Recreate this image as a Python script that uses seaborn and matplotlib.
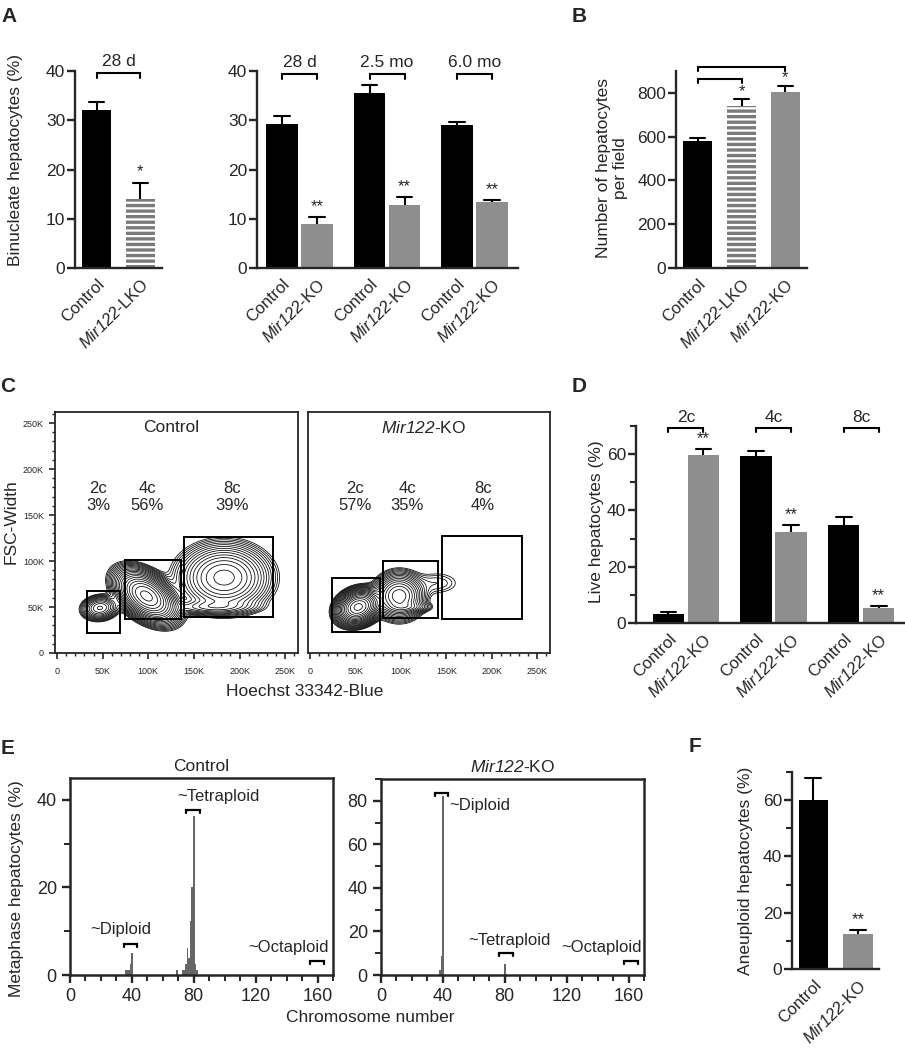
import numpy as np
import pandas as pd
import matplotlib
matplotlib.use("Agg")
import matplotlib.pyplot as plt
from matplotlib.patches import Rectangle
from matplotlib.ticker import MultipleLocator
import seaborn as sns

sns.set_style("ticks")
plt.rcParams['font.family'] = ['Liberation Sans', 'DejaVu Sans']
plt.rcParams['mathtext.fontset'] = 'custom'
plt.rcParams['mathtext.rm'] = 'Liberation Sans'
plt.rcParams['mathtext.it'] = 'Liberation Sans:italic'
# \mathsf is used for the gene name so that its digits are italic as well
plt.rcParams['mathtext.sf'] = 'Liberation Sans:italic'
plt.rcParams['hatch.linewidth'] = 1.6

BLACK = '#000000'
GRAY = '#8e8e8e'
HATCH_GRAY = '#7a7a7a'
HIST_GRAY = '#666666'

KO = r'$\mathsf{Mir122}$-KO'
LKO = r'$\mathsf{Mir122}$-LKO'

# ---------------- data ----------------
# A (left): binucleate, 28 d
a1_labels = ['Control', LKO]
a1_mean = [32.0, 14.0]
a1_err = [1.8, 3.2]
a1_stars = ['', '*']

# A (right): binucleate over time
a2_times = ['28 d', '2.5 mo', '6.0 mo']
a2_ctrl = [29.2, 35.5, 29.1]
a2_ctrl_err = [1.6, 1.7, 0.6]
a2_ko = [9.0, 12.8, 13.4]
a2_ko_err = [1.4, 1.6, 0.4]
a2_stars = ['**', '**', '**']

# B: hepatocytes per field
b_labels = ['Control', LKO, KO]
b_mean = [578, 742, 806]
b_err = [15, 28, 27]
b_stars = ['', '*', '*']

# C: flow gates (x0, x1, y0, y1 in K) and percentages
c_gate_names = ['2c', '4c', '8c']
c_ctrl_pct = ['3%', '56%', '39%']
c_ko_pct = ['57%', '35%', '4%']
c_ctrl_gates = [(33, 69, 22, 67), (75, 136, 37, 101), (139, 237, 39, 126)]
c_ko_gates = [(24, 77, 23, 81), (80, 141, 38, 100), (145, 233, 37, 127)]
c_ctrl_label_x = [45, 99, 192]
c_ko_label_x = [50, 107, 190]
# populations: (cx, cy, sx, sy, rho, weight), in K
c_ctrl_pops = [(47, 49, 9, 6, 0.1, 0.03),
               (98, 62, 14, 12, -0.45, 0.56),
               (183, 82, 22, 16, 0.0, 0.36),
               (170, 50, 24, 4, 0.0, 0.02)]
c_ko_pops = [(53, 50, 10, 8, 0.2, 0.57),
             (98, 62, 12, 11, 0.0, 0.28),
             (108, 50, 12, 3, 0.0, 0.015),
             (140, 76, 16, 8, 0.0, 0.012)]

# D: ploidy of live hepatocytes
d_groups = ['2c', '4c', '8c']
d_ctrl = [3.2, 59.2, 34.7]
d_ctrl_err = [0.8, 1.8, 2.9]
d_ko = [59.8, 32.5, 5.3]
d_ko_err = [2.0, 2.3, 0.9]
d_stars = ['**', '**', '**']

# E: karyotype histograms
e_ctrl_chrom = [36, 37, 38, 39, 40, 69, 73, 74, 75, 76, 77, 78, 79, 80, 81, 82]
e_ctrl_pct = [1.2, 1.2, 1.2, 2.4, 5.0, 1.2, 1.2, 1.2, 2.4, 6.2, 3.8, 12.4, 20.0, 36.3, 2.4, 1.2]
e_ko_chrom = [38, 39, 40, 80]
e_ko_pct = [2.3, 8.7, 82.3, 5.0]

# F: aneuploid hepatocytes
f_labels = ['Control', KO]
f_mean = [60.0, 12.3]
f_err = [8.0, 1.7]
f_stars = ['', '**']

# ---------------- helpers ----------------
W, H = 905, 1050
fig = plt.figure(figsize=(W / 100, H / 100), dpi=100)


def add_ax(l, t, r, b):
    return fig.add_axes([l / W, 1 - b / H, (r - l) / W, (b - t) / H])


def style_bar_axes(ax, ymax, major, minor=None, fs=12.5):
    sns.despine(ax=ax)
    for s in ['left', 'bottom']:
        ax.spines[s].set_linewidth(1.7)
    ax.set_ylim(0, ymax)
    ax.yaxis.set_major_locator(MultipleLocator(major))
    if minor:
        ax.yaxis.set_minor_locator(MultipleLocator(minor))
        ax.tick_params(axis='y', which='minor', length=4, width=1.5)
    ax.tick_params(axis='y', which='major', length=6, width=1.7, labelsize=fs, pad=1)
    ax.tick_params(axis='x', length=0, labelsize=12, pad=6)
    ax.set_xlabel('')
    ax.set_ylabel('')


def err_up(ax, xs, means, errs, half):
    for x, m, e in zip(xs, means, errs):
        ax.plot([x, x], [m, m + e], color='black', lw=1.5, solid_capstyle='butt')
        ax.plot([x - half, x + half], [m + e, m + e], color='black', lw=1.5)


def stars(ax, xs, tops, marks, off, fs=12):
    for x, t, s in zip(xs, tops, marks):
        if s:
            ax.text(x, t + off, s, ha='center', va='bottom', fontsize=fs)


def bracket(ax, x0, x1, y, drop, lw=1.5):
    ax.plot([x0, x0, x1, x1], [y - drop, y, y, y - drop], color='black', lw=lw,
            clip_on=False, solid_joinstyle='miter')


def rot_labels(ax, pos, labels):
    ax.set_xticks(pos)
    ax.set_xticklabels(labels, rotation=45, ha='right', rotation_mode='anchor', fontsize=12)


def hatch_bar(patch):
    patch.set_facecolor(HATCH_GRAY)
    patch.set_edgecolor('white')
    patch.set_hatch('---')
    patch.set_linewidth(0)


# ---------------- A left ----------------
ax = add_ax(75, 71, 162, 268)
sns.barplot(x=a1_labels, y=a1_mean, hue=a1_labels, palette=[BLACK, HATCH_GRAY],
            width=0.66, saturation=1, legend=False, ax=ax, linewidth=0)
hatch_bar(ax.patches[1])
err_up(ax, range(2), a1_mean, a1_err, 0.18)
stars(ax, range(2), np.add(a1_mean, a1_err), a1_stars, 0.8)
style_bar_axes(ax, 40, 10)
ax.set_xlim(-0.49, 1.49)
rot_labels(ax, range(2), a1_labels)
bracket(ax, 0, 1, 39.6, 1.0)
ax.text(0.5, 40.4, '28 d', ha='center', va='bottom', fontsize=12.5)
fig.text(16 / W, 1 - 160 / H, 'Binucleate hepatocytes (%)', rotation=90,
         ha='center', va='center', fontsize=12.5)

# ---------------- A right ----------------
ax = add_ax(257, 71, 518, 268)
a2_df = pd.DataFrame({'time': a2_times * 2,
                      'genotype': ['Control'] * 3 + ['KO'] * 3,
                      'value': a2_ctrl + a2_ko})
sns.barplot(data=a2_df, x='time', y='value', hue='genotype', palette=[BLACK, GRAY],
            width=0.8, gap=0.1, saturation=1, legend=False, ax=ax, linewidth=0)
g = np.arange(len(a2_times))
err_up(ax, g - 0.2, a2_ctrl, a2_ctrl_err, 0.09)
err_up(ax, g + 0.2, a2_ko, a2_ko_err, 0.09)
stars(ax, g + 0.2, np.add(a2_ko, a2_ko_err), a2_stars, 0.6)
style_bar_axes(ax, 40, 10)
ax.set_xlim(-0.486, 2.497)
rot_labels(ax, np.ravel(np.column_stack([g - 0.2, g + 0.2])), ['Control', KO] * 3)
for i, t in enumerate(a2_times):
    bracket(ax, i - 0.2, i + 0.2, 39.3, 1.0)
    ax.text(i, 40.2, t, ha='center', va='bottom', fontsize=12.5)

# ---------------- B ----------------
ax = add_ax(676, 71, 807, 268)
sns.barplot(x=b_labels, y=b_mean, hue=b_labels, palette=[BLACK, HATCH_GRAY, GRAY],
            width=0.66, saturation=1, legend=False, ax=ax, linewidth=0)
hatch_bar(ax.patches[1])
err_up(ax, range(3), b_mean, b_err, 0.18)
stars(ax, range(3), np.add(b_mean, b_err), b_stars, 2)
style_bar_axes(ax, 900, 200)
ax.set_yticks([0, 200, 400, 600, 800])
ax.set_xlim(-0.49, 2.49)
rot_labels(ax, range(3), b_labels)
bracket(ax, 0, 1, 862, 18)
bracket(ax, 0, 2, 917, 18)
fig.text(612 / W, 1 - 168 / H, 'Number of hepatocytes\nper field', rotation=90,
         ha='center', va='center', fontsize=12.5, linespacing=1.1)

# ---------------- C ----------------
gx, gy = np.meshgrid(np.linspace(0, 265, 500), np.linspace(0, 262, 500))


def density(pops):
    z = np.zeros_like(gx)
    for cx, cy, sx, sy, rho, w in pops:
        dx = (gx - cx) / sx
        dy = (gy - cy) / sy
        q = (dx ** 2 - 2 * rho * dx * dy + dy ** 2) / (1 - rho ** 2)
        z += w * np.exp(-0.5 * q) / (2 * np.pi * sx * sy * np.sqrt(1 - rho ** 2))
    return z


c_panels = [(add_ax(55, 412, 298, 653), c_ctrl_pops, c_ctrl_gates, c_ctrl_pct, c_ctrl_label_x, 'Control', True),
            (add_ax(308, 412, 550, 653), c_ko_pops, c_ko_gates, c_ko_pct, c_ko_label_x, KO, False)]
for ax, pops, gates, pcts, lx, title, first in c_panels:
    z = density(pops)
    levels = np.geomspace(z.max() * 0.006, z.max() * 0.9, 20)
    ax.contour(gx, gy, z, levels=levels, colors='black', linewidths=0.55)
    for (x0, x1, y0, y1) in gates:
        ax.add_patch(Rectangle((x0, y0), x1 - x0, y1 - y0, fill=False, lw=1.4, ec='black'))
    for x, name, p in zip(lx, c_gate_names, pcts):
        ax.text(x, 170, f'{name}\n{p}', ha='center', va='center', fontsize=12, linespacing=1.15)
    ax.text(125, 245, title, ha='center', va='center', fontsize=12.5)
    ax.set_xlim(-2.2, 264)
    ax.set_ylim(0, 262)
    for s in ax.spines.values():
        s.set_linewidth(1.3)
    ax.xaxis.set_minor_locator(MultipleLocator(10))
    ax.set_xticks([0, 50, 100, 150, 200, 250])
    ax.set_xticklabels(['0', '50K', '100K', '150K', '200K', '250K'])
    ax.tick_params(axis='x', which='major', length=4, width=1.2, labelsize=6.5, pad=6)
    ax.tick_params(axis='x', which='minor', length=2, width=1.0)
    if first:
        ax.set_yticks([0, 50, 100, 150, 200, 250])
        ax.set_yticklabels(['0', '50K', '100K', '150K', '200K', '250K'])
        ax.yaxis.set_minor_locator(MultipleLocator(10))
        ax.tick_params(axis='y', which='major', length=4, width=1.2, labelsize=6.5, pad=4)
        ax.tick_params(axis='y', which='minor', length=2, width=1.0)
    else:
        ax.set_yticks([])
        ax.tick_params(axis='y', which='both', length=0)
fig.text(11 / W, 1 - 522 / H, 'FSC-Width', rotation=90, ha='center', va='center', fontsize=12.5)
fig.text(305 / W, 1 - 692 / H, 'Hoechst 33342-Blue', ha='center', va='center', fontsize=12.5)

# ---------------- D ----------------
ax = add_ax(636, 426, 905, 623)
d_df = pd.DataFrame({'ploidy': d_groups * 2,
                     'genotype': ['Control'] * 3 + ['KO'] * 3,
                     'value': d_ctrl + d_ko})
sns.barplot(data=d_df, x='ploidy', y='value', hue='genotype', palette=[BLACK, GRAY],
            width=0.8, gap=0.1, saturation=1, legend=False, ax=ax, linewidth=0)
g = np.arange(len(d_groups))
err_up(ax, g - 0.2, d_ctrl, d_ctrl_err, 0.09)
err_up(ax, g + 0.2, d_ko, d_ko_err, 0.09)
stars(ax, g + 0.2, np.add(d_ko, d_ko_err), d_stars, 0.9)
style_bar_axes(ax, 70, 20, 10)
ax.set_xlim(-0.57, 2.5)
rot_labels(ax, np.ravel(np.column_stack([g - 0.2, g + 0.2])), ['Control', KO] * 3)
for i, t in enumerate(d_groups):
    bracket(ax, i - 0.2, i + 0.2, 69.3, 1.4)
    ax.text(i, 70.2, t, ha='center', va='bottom', fontsize=12.5)
fig.text(596 / W, 1 - 522 / H, 'Live hepatocytes (%)', rotation=90,
         ha='center', va='center', fontsize=12.5)

# ---------------- E ----------------
e_panels = [(add_ax(70, 778, 333, 975), e_ctrl_chrom, e_ctrl_pct, 45, 20, 10, 'Control',
             [('~Diploid', 35, 43, 7.1, 33, 8.6, 'center'),
              ('~Tetraploid', 75, 84, 37.8, 96, 39.0, 'center'),
              ('~Octaploid', 155, 164, 3.2, 141.5, 4.6, 'center')], 0.7),
            (add_ax(381, 779, 644, 975), e_ko_chrom, e_ko_pct, 90, 20, 10, KO,
             [('~Diploid', 35, 43, 83.5, 44, 77.7, 'left'),
              ('~Tetraploid', 76, 85, 10.0, 83, 12.6, 'center'),
              ('~Octaploid', 157, 166, 6.4, 142.5, 9.0, 'center')], 1.4)]
for ax, xs, ys, ymax, major, minor, title, notes, drop in e_panels:
    ax.bar(xs, ys, width=1.0, color=HIST_GRAY, linewidth=0)
    ax.set_xlim(0, 170)
    ax.set_ylim(0, ymax)
    ax.xaxis.set_major_locator(MultipleLocator(40))
    ax.xaxis.set_minor_locator(MultipleLocator(10))
    ax.yaxis.set_major_locator(MultipleLocator(major))
    ax.yaxis.set_minor_locator(MultipleLocator(minor))
    for s in ax.spines.values():
        s.set_linewidth(1.8)
    ax.tick_params(which='major', length=6, width=1.7, labelsize=13)
    ax.tick_params(which='minor', length=4, width=1.4)
    ax.set_title(title, fontsize=12.5, pad=5)
    for txt, x0, x1, yb, tx, ty, ha in notes:
        bracket(ax, x0, x1, yb, drop, lw=1.6)
        va = 'center' if ha == 'left' else 'bottom'
        ax.text(tx, ty, txt, ha=ha, va=va, fontsize=12)
fig.text(17 / W, 1 - 889 / H, 'Metaphase hepatocytes (%)', rotation=90,
         ha='center', va='center', fontsize=12.5)
fig.text(370 / W, 1 - 1018 / H, 'Chromosome number', ha='center', va='center', fontsize=12.5)

# ---------------- F ----------------
ax = add_ax(792, 772, 879, 969)
sns.barplot(x=f_labels, y=f_mean, hue=f_labels, palette=[BLACK, GRAY],
            width=0.66, saturation=1, legend=False, ax=ax, linewidth=0)
err_up(ax, range(2), f_mean, f_err, 0.18)
stars(ax, range(2), np.add(f_mean, f_err), f_stars, 0.8)
style_bar_axes(ax, 70, 20, 10)
ax.set_xlim(-0.48, 1.47)
rot_labels(ax, range(2), f_labels)
fig.text(745 / W, 1 - 871 / H, 'Aneuploid hepatocytes (%)', rotation=90,
         ha='center', va='center', fontsize=12.5)

# ---------------- panel letters ----------------
for letter, x, y in [('A', 9, 17), ('B', 579, 17), ('C', 8, 387),
                     ('D', 579, 387), ('E', 8, 748), ('F', 695, 747)]:
    fig.text(x / W, 1 - y / H, letter, fontsize=15, fontweight='bold', ha='center', va='center')

fig.savefig('out.png', dpi=100)
